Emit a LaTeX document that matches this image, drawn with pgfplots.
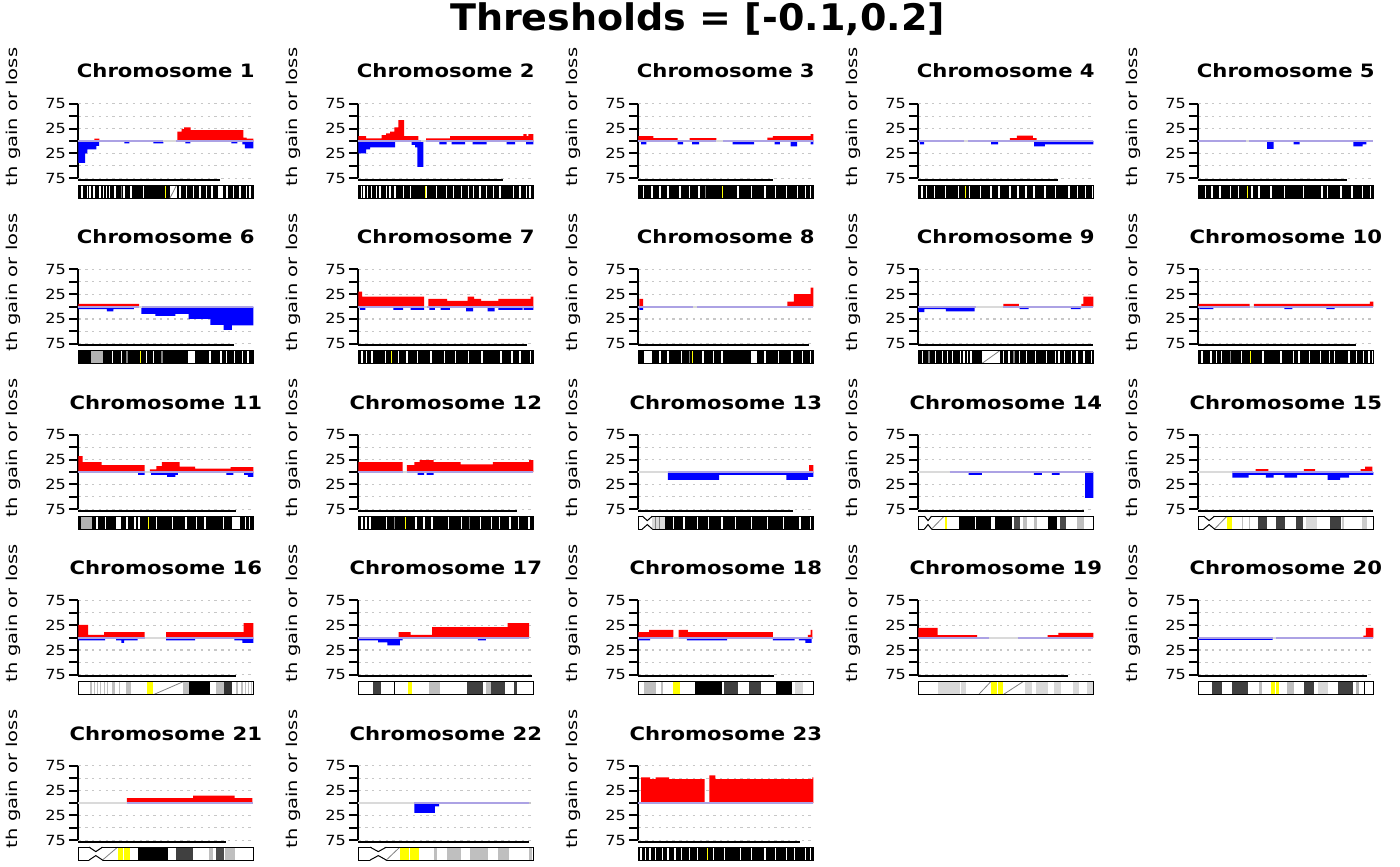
\documentclass[border=0pt]{standalone}
\usepackage{pgfplots}
\pgfplotsset{compat=1.18}
\usepackage{fontspec}
\setmainfont{DejaVu Sans}
\usepackage{graphicx}
\definecolor{lav}{RGB}{172,162,228}
\definecolor{zg}{RGB}{218,218,218}
\definecolor{ylw}{RGB}{255,255,0}

\def\bandsplit#1/#2\relax{\def\bandA{#1}\def\bandB{#2}}
\newcommand{\bands}[2]{\pgfplotsforeachungrouped \pp in {#2}{\expandafter\bandsplit\pp\relax\edef\tmp{\noexpand\addplot[fill=#1,draw=none,forget plot] coordinates {(\bandA,-89)(\bandB,-89)(\bandB,-115)(\bandA,-115)};}\tmp}}
\newcommand{\stripes}[2]{\pgfplotsforeachungrouped \cc in {#2}{\pgfmathsetmacro\bandA{\cc-0.7}\pgfmathsetmacro\bandB{\cc+0.7}\edef\tmp{\noexpand\addplot[fill=#1,draw=none,forget plot] coordinates {(\bandA,-89)(\bandB,-89)(\bandB,-115)(\bandA,-115)};}\tmp}}
\newcommand{\frameideo}{\addplot[black,line width=0.5pt,forget plot] coordinates {(0,-89)(175,-89)(175,-115)(0,-115)(0,-89)};}
\newcommand{\notch}[3]{%
 \addplot[fill=white,draw=none,forget plot] coordinates {(#1,-87.5)(#2,-98)(#3,-87.5)};
 \addplot[fill=white,draw=none,forget plot] coordinates {(#1,-116.5)(#2,-106)(#3,-116.5)};
 \addplot[black,line width=0.5pt,forget plot] coordinates {(#1,-89)(#2,-98)(#3,-89)};
 \addplot[black,line width=0.5pt,forget plot] coordinates {(#1,-115)(#2,-106)(#3,-115)};}
\newcommand{\diag}[2]{\addplot[gray,line width=0.4pt,forget plot] coordinates {(#1,-115)(#2,-89)};}
\newcommand{\zl}[3]{\addplot[#1,line width=1pt,forget plot] coordinates {(#2,0)(#3,0)};}
\newcommand{\xl}[1]{\addplot[black,line width=1pt,forget plot] coordinates {(0,-78.6)(#1,-78.6)};}
\newcommand{\gain}[1]{\addplot[const plot,fill=red,draw=none,forget plot] coordinates {#1};}
\newcommand{\loss}[1]{\addplot[const plot,fill=blue,draw=none,forget plot] coordinates {#1};}
\newcommand{\tkl}[1]{\scalebox{1.15}[1]{#1}}
\newcommand{\chrt}[1]{\scalebox{1.15}[1]{Chromosome #1}}

\pgfplotsset{panel/.style={
 scale only axis, width=87.5pt, height=37.2pt,
 xmin=0, xmax=175, ymin=-75, ymax=75, clip=false,
 axis x line=none, axis y line=left, axis line style={line width=1pt,-},
 ytick={-75,-50,-25,0,25,50,75},
 yticklabels={\tkl{75},{},\tkl{25},{},\tkl{25},{},\tkl{75}},
 tick align=outside, major tick length=4.5pt,
 ytick style={line width=1pt,black},
 yticklabel style={font=\fontsize{7}{8}\selectfont, inner sep=1.5pt},
 ymajorgrids, major grid style={black!22, line width=0.6pt, dash pattern=on 1.2pt off 2.2pt},
 every axis title/.style={at={(0.5,1)}, anchor=base, yshift=12.9pt, font=\bfseries\fontsize{9.2}{11}\selectfont},
 every axis y label/.style={at={(axis description cs:-0.3486,-0.1116)}, rotate=90, anchor=base west, font=\fontsize{7.5}{9}\selectfont, inner sep=0pt},
 ylabel={\scalebox{1.3}[1]{th gain or loss}},
 anchor=south west,
}}

\begin{document}
\begin{tikzpicture}
\useasboundingbox (0,0) rectangle (700pt,-433pt);
\node[anchor=base, font=\bfseries\fontsize{18.3}{22}\selectfont] at (348.75pt,-15.35pt) {\scalebox{1.04}[1]{Thresholds = [-0.1,0.2]}};

% ---------- Chromosome 1
\begin{axis}[panel, at={(39.15pt,-89.1pt)}, title={\chrt{1}}]
\gain{(16,0)(16,5)(21,0)(99,19)(103.3,24)(105.7,27.5)(112.3,22)(165,7)(168.3,5)(175,5)(175,0)}
\loss{(0,0)(0,-44)(6.7,-25)(9,-17)(18,-10)(20.7,0)(46,-5)(51,0)(75,-5)(85,0)(107,-5)(112,0)(153,-5)(159,0)(164,-7)(166.5,-15)(175,-15)(175,0)}
\zl{lav}{0}{85}\zl{zg}{85}{98}\zl{lav}{98}{175}
\xl{141.7}
\bands{black}{0/175}
\stripes{white}{3.5,9,11.7,15.5,21.7,25,28.3,31,36.7,45.5,52.5,65,101.5,108.3,115,121.7,128.3,133.5,148.5,155,161.7,168.3,171.5}
\bands{white}{140/144.3,91.7/98.3}
\diag{91.7}{98.3}
\stripes{gray}{43.3}
\bands{ylw}{86.3/87}
\frameideo
\end{axis}

% ---------- Chromosome 2
\begin{axis}[panel, at={(179.15pt,-89.1pt)}, title={\chrt{2}}]
\gain{(0,0)(0,10)(7.7,5.4)(23.3,12)(27.7,15.5)(31.7,19)(36,27.5)(40,42)(45.7,10)(60,0)(67.7,5.4)(91.7,10)(165,14)(168.3,10)(170,14)(175,14)(175,0)}
\loss{(0,0)(0,-25)(7.7,-17)(11.7,-13)(36.7,0)(53.3,-8)(56.7,-13)(59,-52)(65,0)(81,-7)(88.3,0)(93.3,-7)(106.7,0)(114.3,-7)(128.3,0)(148.3,-7)(156.7,0)(167.7,-7)(175,-7)(175,0)}
\zl{lav}{0}{63}\zl{zg}{63}{67.7}\zl{lav}{67.7}{175}
\xl{145}
\bands{black}{0/175}
\stripes{white}{3.3,5.7,9,13.3,18.3,21.7,28.3,31.7,36.7,45,52,68.3,78.3,88.3,95,103.3,110,115,121.7,128.3,135,141.7,155,161.7,168.3,171.7}
\bands{ylw}{66.5/67.2}
\frameideo
\end{axis}

% ---------- Chromosome 3
\begin{axis}[panel, at={(319.15pt,-89.1pt)}, title={\chrt{3}}]
\gain{(0,0)(0,10)(15,6)(39.3,0)(51.2,6)(78,0)(129,6.7)(134.6,10)(172.3,14)(175,14)(175,0)}
\loss{(2.7,0)(2.7,-7)(8,0)(39.3,-7)(44.7,0)(53.8,-7)(60.8,0)(94.2,-7)(115.8,0)(136.2,-7)(141.6,0)(152.4,-11)(158.9,0)(172.3,-7)(175,-7)(175,0)}
\zl{lav}{0}{78}\zl{zg}{78}{85}\zl{lav}{85}{175}
\xl{134.6}
\bands{black}{0/175}
\stripes{white}{5.4,13.5,21.5,29.6,41.5,51.2,60.8,99.6,113,126.5,137.3,148,158.9,167,172.3}
\stripes{gray}{67.3}
\bands{ylw}{83.2/83.9}
\frameideo
\end{axis}

% ---------- Chromosome 4
\begin{axis}[panel, at={(459.15pt,-89.1pt)}, title={\chrt{4}}]
\gain{(91.5,0)(91.5,6)(98.5,10.7)(114.6,6)(118.4,0)}
\loss{(1.6,0)(1.6,-7)(5.9,0)(72.7,-7)(79.7,0)(115.8,-11)(126.5,-7)(175,-7)(175,0)}
\zl{lav}{0}{45.8}\zl{zg}{45.8}{50}\zl{lav}{50}{175}
\xl{140}
\bands{black}{0/175}
\stripes{white}{3.8,8.1,16.2,26.9,40.4,51.2,62,72.7,80.8,91.5,99.6,107.7,115.8,126.5,137.3,150.8,158.9,167,174}
\bands{ylw}{46.7/47.4}
\frameideo
\end{axis}

% ---------- Chromosome 5
\begin{axis}[panel, at={(599.15pt,-89.1pt)}, title={\chrt{5}}]
\loss{(68.9,0)(68.9,-16)(75.4,0)(95.3,-7)(101.2,0)(155,-11)(164.2,-7)(168,0)}
\zl{lav}{0}{47.4}\zl{zg}{47.4}{51}\zl{lav}{51}{175}
\xl{149}
\bands{black}{0/175}
\stripes{white}{7,13.5,21.5,32.3,40.4,53.8,60.8,72.7,86.1,105,123.8,129.2,142.7,153.5,164.2,172.3}
\bands{ylw}{48.7/49.4}
\frameideo
\end{axis}

% ---------- Chromosome 6
\begin{axis}[panel, at={(39.15pt,-171.85pt)}, title={\chrt{6}}]
\gain{(0,0)(0,5.4)(60.8,0)}
\loss{(0,0)(0,-5.4)(28.5,-10)(35,-5.4)(55.5,0)(63,-15)(77,-19)(97,-15)(110.4,-25)(132,-37)(145.4,-47)(153.5,-38)(175,-38)(175,0)}
\zl{lav}{0}{60.8}\zl{zg}{60.8}{64}\zl{lav}{64}{175}
\xl{156}
\bands{black}{0/175}
\bands{gray!60}{12.4/24.2}
\bands{white}{110/117}
\stripes{white}{34,43,68.4,75.4,131.5,142.7,148,156.2,164.2,169.6}
\stripes{gray}{48.5,83.5}
\bands{ylw}{61.7/62.4}
\frameideo
\end{axis}

% ---------- Chromosome 7
\begin{axis}[panel, at={(179.15pt,-171.85pt)}, title={\chrt{7}}]
\gain{(0,0)(0,30)(3.8,20)(65.7,0)(70,15.5)(88.9,11.4)(109.3,20)(115.8,15.5)(122.8,11.4)(140,15.5)(172.3,20)(175,20)(175,0)}
\loss{(1.6,0)(1.6,-7)(7,0)(35,-7)(44.7,0)(52.2,-7)(65.7,0)(71,-7)(76.5,0)(82.4,-7)(91.5,0)(107.7,-10)(114.7,0)(129.2,-10)(136.2,0)(140,-7)(164.2,0)(165.3,-7)(175,-7)(175,0)}
\zl{lav}{0}{65.7}\zl{zg}{65.7}{69}\zl{lav}{69}{175}
\xl{168.5}
\bands{black}{0/175}
\stripes{white}{3.8,8.1,13.5,26.9,40.4,48.5,59.2,72.7,86.1,96.9,110.4,123.8,142.7,153.5,161.6,172.3}
\bands{ylw}{32.7/33.4}
\frameideo
\end{axis}

% ---------- Chromosome 8
\begin{axis}[panel, at={(319.15pt,-171.85pt)}, title={\chrt{8}}]
\gain{(1.1,0)(1.1,15.5)(4.8,0)(149,10)(155.6,25)(172.3,38)(175,38)(175,0)}
\loss{(1.1,0)(1.1,-7)(4.8,0)}
\zl{lav}{0}{55}\zl{zg}{55}{59}\zl{lav}{59}{175}
\xl{170.7}
\bands{black}{0/175}
\bands{white}{5.4/13.5,113/118.4}
\stripes{white}{21.5,29.6,43,64.6,75.4,83.5,126.5,140,153.5,164.2,172.3}
\stripes{gray}{51.2}
\bands{ylw}{53.4/54.2}
\frameideo
\end{axis}

% ---------- Chromosome 9
\begin{axis}[panel, at={(459.15pt,-171.85pt)}, title={\chrt{9}}]
\loss{(0,0)(0,-11.4)(6.1,-5.4)(27.6,-10)(56.4,0)(101.2,-5.4)(110.2,0)(152.5,-5.4)(162.2,0)}
\gain{(85,0)(85,5.4)(100.5,0)(163,5.4)(165,20)(175,20)(175,0)}
\zl{lav}{0}{57.4}\zl{zg}{57.4}{85}\zl{lav}{85}{175}
\xl{175}
\bands{black}{0/175}
\bands{white}{63.5/81.5}
\diag{63.5}{81.5}
\stripes{white}{4.3,16.9,24,29.4,34.1,42,45.6,49.2,52.8,85.1,90.5,101.2,108.4,117.4,128.1,137.1,140.7,146.1,153.3,158.6,165.8,173}
\stripes{gray}{10.8,95.8}
\frameideo
\end{axis}

% ---------- Chromosome 10
\begin{axis}[panel, at={(599.15pt,-171.85pt)}, title={\chrt{10}}]
\gain{(0,0)(0,5.4)(51.3,0)(55.5,5.4)(171.6,10)(175,10)(175,0)}
\loss{(1,0)(1,-5.4)(15,0)(86,-5.4)(94,0)(128,-5.4)(136.4,0)}
\zl{lav}{0}{52}\zl{zg}{52}{55.5}\zl{lav}{55.5}{175}
\xl{158}
\bands{black}{0/175}
\stripes{white}{3.6,12.6,17.9,23.3,43.1,64.6,82.6,95.1,100.5,111.3,122,131,136.4,150.8,158,165.1,170.5,174.3}
\stripes{gray}{32.3}
\bands{ylw}{51.6/52.4}
\frameideo
\end{axis}

% ---------- Chromosome 11
\begin{axis}[panel, at={(39.15pt,-254.6pt)}, title={\chrt{11}}]
\gain{(0,0)(0,32)(4.3,20)(23.2,14)(66.2,0)(71.6,5.4)(78,12)(83.5,20)(101.2,10.7)(116.9,6.7)(152.4,10)(175,10)(175,0)}
\loss{(59.8,0)(59.8,-6)(66.2,0)(72.7,-6)(88.9,-10)(97,-6)(99.6,0)(148,-6)(155,0)(165.9,-6)(169.6,-10)(175,-10)(175,0)}
\zl{lav}{0}{66.2}\zl{zg}{66.2}{71.6}\zl{lav}{71.6}{175}
\xl{157.8}
\bands{black}{0/175}
\bands{gray!60}{2.7/13.5}
\bands{white}{37.7/43,153.5/161.6}
\stripes{white}{18.8,26.9,48.5,56.5,60.8,78,94.2,107.7,118.4,126.5,145.4,167,171}
\bands{ylw}{69.6/70.4}
\frameideo
\end{axis}

% ---------- Chromosome 12
\begin{axis}[panel, at={(179.15pt,-254.6pt)}, title={\chrt{12}}]
\gain{(0,0)(0,20)(44.2,0)(48.5,14)(56,20)(61.4,24)(75.4,20)(102.3,15.5)(134.6,20)(170.7,24)(175,24)(175,0)}
\loss{(59.2,0)(59.2,-6)(65.7,0)(68.4,-6)(75.4,0)}
\zl{lav}{0}{44.2}\zl{zg}{44.2}{48.5}\zl{lav}{48.5}{175}
\xl{158.3}
\bands{black}{0/175}
\stripes{white}{3.8,7.5,11.8,28,57.6,65.7,73.8,89.9,103.3,122.2,133,141,151.8,159.9,170.7}
\stripes{gray}{36.1,111.4}
\bands{ylw}{47/47.8}
\frameideo
\end{axis}

% ---------- Chromosome 13
\begin{axis}[panel, at={(319.15pt,-254.6pt)}, title={\chrt{13}}]
\loss{(29.6,0)(29.6,-16)(80.8,-6)(148,-16)(169.6,-10)(175,-10)(175,0)}
\gain{(170.7,0)(170.7,14)(175,0)}
\zl{zg}{0}{29.6}\zl{lav}{29.6}{175}
\xl{155}
\bands{black}{27/175}
\bands{zg}{13.5/27}
\stripes{white}{35,45.8,59.2,70,83.5,97,113,129.2,145.4,161.6,172.3}
\stripes{gray}{17,21}
\frameideo
\notch{4}{9}{14}
\end{axis}

% ---------- Chromosome 14
\begin{axis}[panel, at={(459.15pt,-254.6pt)}, title={\chrt{14}}]
\loss{(50.3,0)(50.3,-6)(63.5,0)(115.6,-6)(123.5,0)(133.5,-6)(141.4,0)(166.9,-52)(175,-52)(175,0)}
\zl{zg}{0}{31.2}\zl{lav}{31.2}{175}
\xl{165.8}
\bands{black}{40.2/56.4,58/72.5,76.8/94,129.2/138.2}
\bands{black!70}{95.8/101.2,141.4/148}
\bands{gray!50}{104.8/108.4,115.6/119,158.6/165.8}
\bands{ylw}{27/28.5}
\diag{13.3}{25.8}
\frameideo
\notch{6.1}{9.7}{13.3}
\end{axis}

% ---------- Chromosome 15
\begin{axis}[panel, at={(599.15pt,-254.6pt)}, title={\chrt{15}}]
\loss{(34.1,0)(34.1,-11.4)(50.3,-6)(67.5,-11.4)(75.4,-6)(86.1,-11.4)(98.7,-6)(129.2,-16)(141.8,-11.4)(150.8,-6)(175,-6)(175,0)}
\gain{(57.4,0)(57.4,6)(70,0)(105.6,6)(116.7,0)(162.2,6)(166.9,10.7)(174.1,0)}
\zl{zg}{0}{34.1}\zl{lav}{34.1}{175}
\xl{175}
\bands{ylw}{28.7/34.1}
\bands{gray!50}{43.4/44.5,50.5/51.5}
\bands{black!75}{59.2/68.2,77.5/86.5,97.7/104.8,131.6/142.4}
\bands{gray!30}{107.7/118.4}
\bands{gray!40}{143.5/145.4,163.3/168.7}
\diag{16.2}{28.7}
\frameideo
\notch{5.4}{10.8}{16.2}
\end{axis}

% ---------- Chromosome 16
\begin{axis}[panel, at={(39.15pt,-337.35pt)}, title={\chrt{16}}]
\gain{(0,0)(0,25.5)(9.7,5.4)(25.8,10.7)(66.2,0)(87.8,10.7)(165.3,29)(175,29)(175,0)}
\loss{(0,0)(0,-6)(26.9,0)(37.7,-6)(43,-11)(45.8,-6)(59.2,0)(87.8,-6)(116.9,0)(156,-6)(164,-11)(175,-11)(175,0)}
\zl{lav}{0}{66.2}\zl{zg}{66.2}{87.8}\zl{lav}{87.8}{175}
\xl{157.8}
\bands{gray!50}{11.8/14,16/17,19/20,21.5/23,26/27,29/30,34/37,40.4/41.5,48/53,105/110.4,137.3/145.4,158/160,163/165,167/168,170/171,173/174}
\bands{black}{110.4/132}
\bands{black!80}{145.4/153.5}
\bands{ylw}{68.4/71.2,72/74.8}
\diag{75.4}{105}
\frameideo
\end{axis}

% ---------- Chromosome 17
\begin{axis}[panel, at={(179.15pt,-337.35pt)}, title={\chrt{17}}]
\loss{(0,0)(0,-6)(19.9,-10)(29.1,-16)(41.5,-6)(44.2,0)(119.5,-6)(127.6,0)}
\gain{(40.4,0)(40.4,10.7)(52.2,5.4)(73.8,21)(149.2,29)(170.7,0)}
\zl{lav}{0}{171}
\xl{173.4}
\bands{black!75}{14.5/22.6,108.8/125,133/146.5,155.5/159}
\bands{black}{35.5/37}
\bands{ylw}{49.5/53.8}
\bands{gray!50}{71/82,127.6/133}
\frameideo
\end{axis}

% ---------- Chromosome 18
\begin{axis}[panel, at={(319.15pt,-337.35pt)}, title={\chrt{18}}]
\gain{(0,0)(0,10.7)(10.8,15.5)(35,0)(40.4,15.5)(49.5,10.7)(134.6,0)(169.6,5.4)(172.3,15.5)(174,0)}
\loss{(0,0)(0,-6)(11.8,0)(48.5,-6)(88.9,0)(134.6,-6)(156.2,0)(160.5,-6)(167,-11)(173.4,0)}
\zl{lav}{0}{35}\zl{zg}{35}{40.4}\zl{lav}{40.4}{175}
\xl{135.7}
\bands{gray!50}{5.4/17.2,22.5/24.5}
\bands{ylw}{35/38.2,39/42}
\bands{black}{56.5/83.5,137.3/153.5}
\bands{black!75}{86/99.6,110.4/122.8}
\bands{gray!30}{156.2/164.2}
\frameideo
\end{axis}

% ---------- Chromosome 19
\begin{axis}[panel, at={(459.15pt,-337.35pt)}, title={\chrt{19}}]
\gain{(0,0)(0,19.5)(19.4,4.7)(58.9,0)(129.2,4.7)(140,9.4)(175,9.4)(175,0)}
\zl{lav}{0}{70.7}\zl{zg}{70.7}{99.4}\zl{lav}{99.4}{175}
\xl{149.7}
\bands{gray!30}{19.4/42,43/48,106.6/113.8,117.4/129.2,135.3/142.5,154.4/160.4,168.7/175}
\bands{ylw}{72.5/78.5,79.5/85}
\diag{60.3}{72.5}
\diag{85}{104.8}
\frameideo
\end{axis}

% ---------- Chromosome 20
\begin{axis}[panel, at={(599.15pt,-337.35pt)}, title={\chrt{20}}]
\loss{(0,0)(0,-5)(74.3,0)}
\gain{(165.1,0)(165.1,4)(167.6,19.5)(175,19.5)(175,0)}
\zl{lav}{0}{74.3}\zl{zg}{74.3}{77.9}\zl{lav}{77.9}{175}
\xl{168.3}
\bands{black!75}{13.3/24.1,33.4/49.5,105.5/115.2,140/155.1}
\bands{gray!50}{60.3/63.2,89/95.5}
\bands{gray!30}{119.6/129.2}
\bands{gray!60}{157.9/160.4}
\bands{black}{165.9/167}
\bands{ylw}{72.7/76.4,77.2/81}
\frameideo
\end{axis}

% ---------- Chromosome 21
\begin{axis}[panel, at={(39.15pt,-420.1pt)}, title={\chrt{21}}]
\gain{(48.5,0)(48.5,10)(114.7,14.8)(156.2,10)(174,0)}
\zl{zg}{0}{48.5}\zl{lav}{48.5}{175}
\xl{148}
\bands{ylw}{39.3/44.6,45.4/51.2}
\bands{black}{59.2/89.2}
\bands{black!75}{98/114.7}
\bands{gray!50}{131/135,146.5/156.2}
\bands{black!70}{137.3/145.4}
\diag{24.2}{39.3}
\frameideo
\notch{10.8}{17.5}{24.2}
\end{axis}

% ---------- Chromosome 22
\begin{axis}[panel, at={(179.15pt,-420.1pt)}, title={\chrt{22}}]
\loss{(56,0)(56,-20)(76.5,-7)(80.8,0)}
\zl{zg}{0}{56}\zl{lav}{56}{171}
\xl{170.7}
\bands{ylw}{41.5/50.5,51.5/60.3}
\bands{gray!50}{75.4/79,88.3/102.3,111.4/129.2,140/150.8,170.7/173.4}
\diag{28}{41.5}
\frameideo
\notch{11.8}{20}{28}
\end{axis}

% ---------- Chromosome 23
\begin{axis}[panel, at={(319.15pt,-420.1pt)}, title={\chrt{23}}]
\gain{(2.7,0)(2.7,51.7)(11.8,48.4)(17.2,51.7)(30.7,48.4)(66.2,0)(71,55.8)(77,48.4)(174,51.7)(175,0)}
\zl{lav}{0}{175}
\xl{161.5}
\bands{black}{0/175}
\stripes{white}{2.7,7,11.8,17.2,24.2,29.6,36.6,43.1,51.2,59.2,75.4,86.1,102.3,113,126.5,137.3,148,156.2,167,172.3}
\bands{ylw}{68.5/69.3}
\frameideo
\end{axis}

\end{tikzpicture}
\end{document}
